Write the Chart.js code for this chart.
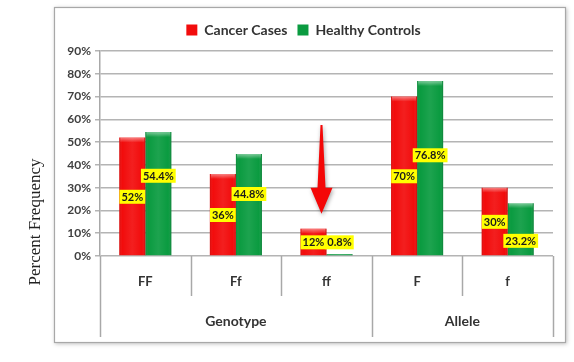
<!DOCTYPE html>
<html lang="en">
  <head>
    <meta charset="UTF-8" />
    <title>Percent Frequency</title>
    <script src="https://cdn.jsdelivr.net/npm/chart.js"></script>
    <style>
      html, body { margin: 0; padding: 0; background: #fff; }
      #wrap { width: 574px; height: 362px; }
    </style>
  </head>
  <body>
    <div id="wrap"><canvas id="myChart" width="574" height="362"></canvas></div>
    <script>
      // data
      var categories = ["FF", "Ff", "ff", "F", "f"];
      var groups = ["Genotype", "Allele"];
      var groupSizes = [3, 2];
      var cancerCases = [52, 36, 12, 70, 30];
      var healthyControls = [54.4, 44.8, 0.8, 76.8, 23.2];
      var yTicks = [0, 10, 20, 30, 40, 50, 60, 70, 80, 90];

      var FONT = "Lato, 'Open Sans', sans-serif";
      var RED = "#f20c0c";
      var GREEN = "#0a9b40";

      // frame, group labels, separators, y title
      var decorPlugin = {
        id: "decor",
        beforeLayout: function (chart) {
          // a bit more room under the legend
          var lg = chart.legend;
          if (lg && !lg._patched) {
            var fit = lg.fit;
            lg.fit = function () {
              fit.call(this);
              this.height += 4;
            };
            lg._patched = true;
          }
        },
        beforeDraw: function (chart) {
          var c = chart.ctx;
          c.save();
          c.shadowColor = "rgba(0,0,0,0.25)";
          c.shadowBlur = 4;
          c.shadowOffsetX = 1;
          c.shadowOffsetY = 1;
          c.fillStyle = "#fff";
          c.fillRect(54, 7, 512, 336);
          c.restore();
          c.save();
          c.strokeStyle = "#a8a8a8";
          c.lineWidth = 1.2;
          c.strokeRect(54.5, 7.5, 511, 335);
          c.restore();

          // y axis title, outside the frame
          c.save();
          c.translate(36, 222);
          c.rotate(-Math.PI / 2);
          c.font = "17px 'Liberation Serif', 'DejaVu Serif', serif";
          c.fillStyle = "#222";
          c.textAlign = "center";
          c.textBaseline = "middle";
          c.fillText("Percent Frequency", 0, 0);
          c.restore();
        },
        afterDraw: function (chart) {
          var c = chart.ctx;
          var area = chart.chartArea;
          var step = (area.right - area.left) / categories.length;
          c.save();
          c.strokeStyle = "#a8a8a8";
          c.lineWidth = 1.5;
          // boundaries between categories
          var idx = 0;
          var bounds = [0];
          groupSizes.forEach(function (n) { idx += n; bounds.push(idx); });
          for (var i = 0; i <= categories.length; i++) {
            var x = Math.round(area.left + i * step) + 0.5;
            var long = bounds.indexOf(i) >= 0;
            c.beginPath();
            c.moveTo(x, area.bottom);
            c.lineTo(x, area.bottom + (long ? 81 : 40));
            c.stroke();
          }
          // group labels
          c.fillStyle = "#333";
          c.font = "bold 14px " + FONT;
          c.textAlign = "center";
          c.textBaseline = "middle";
          for (var g = 0; g < groups.length; g++) {
            var x0 = area.left + bounds[g] * step;
            var x1 = area.left + bounds[g + 1] * step;
            c.fillText(groups[g], (x0 + x1) / 2, area.bottom + 65);
          }
          c.restore();
        }
      };

      // bevel look on the bars
      var bevelPlugin = {
        id: "bevel",
        afterDatasetsDraw: function (chart) {
          var c = chart.ctx;
          c.save();
          chart.data.datasets.forEach(function (ds, di) {
            chart.getDatasetMeta(di).data.forEach(function (bar) {
              var w = bar.width;
              var l = bar.x - w / 2;
              var top = bar.y;
              var h = bar.base - bar.y;
              var g = c.createLinearGradient(l, 0, l + w, 0);
              g.addColorStop(0, "rgba(0,0,0,0.12)");
              g.addColorStop(0.12, "rgba(255,255,255,0.0)");
              g.addColorStop(0.5, "rgba(255,255,255,0.08)");
              g.addColorStop(0.88, "rgba(255,255,255,0.0)");
              g.addColorStop(1, "rgba(0,0,0,0.18)");
              c.fillStyle = g;
              c.fillRect(l, top, w, h);
              if (h > 4) {
                var t = c.createLinearGradient(0, top, 0, top + 5);
                t.addColorStop(0, "rgba(255,255,255,0.45)");
                t.addColorStop(1, "rgba(255,255,255,0)");
                c.fillStyle = t;
                c.fillRect(l + 1, top, w - 2, 5);
              }
            });
          });
          c.restore();
        }
      };

      // yellow value labels; green label moves off the red one when they collide
      var labelPlugin = {
        id: "valueLabels",
        afterDatasetsDraw: function (chart) {
          var c = chart.ctx;
          var ys = chart.scales.y;
          var bottom = chart.chartArea.bottom;
          c.save();
          c.font = "bold 11px " + FONT;
          c.textAlign = "center";
          c.textBaseline = "middle";
          var h = 14;
          var redMeta = chart.getDatasetMeta(0).data;
          var greenMeta = chart.getDatasetMeta(1).data;
          for (var i = 0; i < categories.length; i++) {
            var rv = cancerCases[i], gv = healthyControls[i];
            var ry = ys.getPixelForValue(rv / 2);
            var gy = ys.getPixelForValue(gv / 2);
            ry = Math.min(ry, bottom - h / 2 - 6);
            gy = Math.min(gy, bottom - h / 2 - 6);
            if (Math.abs(gy - ry) < h + 2) {
              if (gy <= ry) gy = ry - (h + 7);
              else if (ry + h + 7 < bottom - h / 2) gy = ry + (h + 5);
              else gy = ry;
            }
            drawLabel(c, rv + "%", redMeta[i].x, ry, h);
            drawLabel(c, gv + "%", greenMeta[i].x, gy, h);
          }
          c.restore();
        }
      };

      function drawLabel(c, text, x, y, h) {
        var w = c.measureText(text).width + 4;
        c.fillStyle = "#ffff00";
        c.fillRect(x - w / 2, y - h / 2, w, h);
        c.fillStyle = "#1a1a1a";
        c.fillText(text, x, y + 0.5);
      }

      // arrow pointing down at ff
      var arrowPlugin = {
        id: "arrow",
        afterDraw: function (chart) {
          var c = chart.ctx;
          var xs = chart.scales.x;
          var ys = chart.scales.y;
          var x = xs.getPixelForValue(2) - 5;
          var top = ys.getPixelForValue(57.5);
          var neck = ys.getPixelForValue(30);
          var tip = ys.getPixelForValue(18.5);
          c.save();
          c.shadowColor = "rgba(0,0,0,0.35)";
          c.shadowBlur = 4;
          c.shadowOffsetX = 1;
          c.shadowOffsetY = 2;
          c.fillStyle = "#f40808";
          c.beginPath();
          c.moveTo(x - 1, top);
          c.lineTo(x + 1, top);
          c.lineTo(x + 4, neck);
          c.lineTo(x + 11, neck);
          c.lineTo(x, tip);
          c.lineTo(x - 11, neck);
          c.lineTo(x - 4, neck);
          c.closePath();
          c.fill();
          c.restore();
        }
      };

      var ctx = document.getElementById("myChart").getContext("2d");
      new Chart(ctx, {
        type: "bar",
        data: {
          labels: categories,
          datasets: [
            { label: "Cancer Cases", data: cancerCases, backgroundColor: RED, borderWidth: 0 },
            { label: "Healthy Controls", data: healthyControls, backgroundColor: GREEN, borderWidth: 0 }
          ]
        },
        options: {
          responsive: false,
          animation: false,
          events: [],
          layout: { padding: { left: 54, right: 21, top: 13, bottom: 0 } },
          datasets: { bar: { categoryPercentage: 0.575, barPercentage: 1 } },
          plugins: {
            tooltip: { enabled: false },
            legend: {
              position: "top",
              labels: {
                boxWidth: 11,
                boxHeight: 11,
                padding: 10,
                color: "#333",
                font: { family: FONT, size: 14, weight: "bold" }
              }
            }
          },
          scales: {
            x: {
              grid: { display: false, drawTicks: false },
              border: { display: false },
              ticks: { color: "#333", padding: 18, font: { family: FONT, size: 13, weight: "bold" } },
              afterFit: function (s) { s.height = 106; }
            },
            y: {
              min: 0,
              max: 90,
              afterBuildTicks: function (s) { s.ticks = yTicks.map(function (v) { return { value: v }; }); },
              grid: { color: "#b4b4b4", lineWidth: 1.5, tickLength: 5 },
              border: { color: "#a8a8a8", width: 1.5 },
              ticks: {
                color: "#404040",
                padding: 4,
                font: { family: FONT, size: 12, weight: "bold" },
                callback: function (v) { return v + "%"; }
              },
              afterFit: function (s) { s.width = 46; }
            }
          }
        },
        plugins: [decorPlugin, bevelPlugin, labelPlugin, arrowPlugin]
      });
    </script>
  </body>
</html>
